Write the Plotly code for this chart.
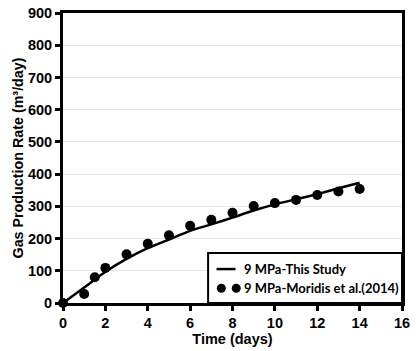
import plotly.graph_objects as go

# Simulated gas production rate (this study)
sim_days = [0, 1, 2, 3, 4, 5, 6, 7, 8, 9, 10, 11, 12, 13, 14]
sim_rate = [0, 48, 97, 137, 170, 197, 224, 244, 265, 287, 306, 322, 338, 356, 373]

# Reference data, Moridis et al. (2014)
ref_days = [0, 1, 1.5, 2, 3, 4, 5, 6, 7, 8, 9, 10, 11, 12, 13, 14]
ref_rate = [0, 28, 80, 109, 151, 184, 210, 240, 258, 280, 301, 310, 320, 335, 346, 354]

x_ticks = [0, 2, 4, 6, 8, 10, 12, 14, 16]
y_ticks = [0, 100, 200, 300, 400, 500, 600, 700, 800, 900]

legend_labels = ["9 MPa-This Study", "9 MPa-Moridis et al.(2014)"]

fig = go.Figure()
fig.add_trace(go.Scatter(
    x=sim_days, y=sim_rate, mode="lines",
    line=dict(color="black", width=2.5, shape="spline", smoothing=0.6),
    showlegend=False,
))
fig.add_trace(go.Scatter(
    x=ref_days, y=ref_rate, mode="markers",
    marker=dict(color="black", size=10, symbol="circle"),
    cliponaxis=False, showlegend=False,
))

FAMILY = "Liberation Sans, Arial, sans-serif"
tick_font = dict(family=FAMILY, size=14.5, color="black")


def bold_labels(vals):
    return ["<b>%d</b>" % v for v in vals]


fig.update_xaxes(
    range=[0, 16], tickvals=x_ticks, ticktext=bold_labels(x_ticks),
    ticks="outside", ticklen=5, tickwidth=2.5,
    tickcolor="black", showline=True, linewidth=3, linecolor="black", mirror=True,
    showgrid=False, zeroline=False, tickfont=tick_font, automargin=False,
    title=dict(text="<b>Time (days)</b>", font=dict(family=FAMILY, size=14.5, color="black"),
               standoff=0),
)
fig.update_yaxes(
    range=[0, 900], tickvals=y_ticks, ticktext=bold_labels(y_ticks),
    ticks="outside", ticklen=5, tickwidth=2.5,
    tickcolor="black", showline=True, linewidth=3, linecolor="black", mirror=True,
    showgrid=True, gridcolor="#e6e6e6", gridwidth=1, zeroline=False, tickfont=tick_font,
    automargin=False,
    title=dict(text="<b>Gas Production Rate (m³/day)</b>",
               font=dict(family=FAMILY, size=14.3, color="black"), standoff=1),
)

# Legend box drawn in paper coordinates
shapes = [
    dict(type="rect", xref="paper", yref="paper", x0=0.428, x1=1.0, y0=0.0, y1=0.172,
         line=dict(color="black", width=2), fillcolor="white", layer="above"),
    dict(type="line", xref="paper", yref="paper", x0=0.453, x1=0.509, y0=0.117, y1=0.117,
         line=dict(color="black", width=2.5)),
]
for cx in (0.467, 0.511):
    shapes.append(dict(type="circle", xref="paper", yref="paper",
                       x0=cx - 0.0133, x1=cx + 0.0133, y0=0.0507 - 0.0155, y1=0.0507 + 0.0155,
                       line=dict(color="black", width=0), fillcolor="black"))

legend_font = dict(family="Lato, Open Sans, sans-serif", size=13, color="black")
annotations = [
    dict(xref="paper", yref="paper", x=0.527, y=yy, xanchor="left", yanchor="middle",
         text="<b>" + lbl + "</b>", showarrow=False, font=legend_font)
    for lbl, yy in zip(legend_labels, (0.117, 0.0507))
]

fig.update_layout(
    width=416, height=351,
    margin=dict(l=63, r=14, t=13, b=48),
    paper_bgcolor="white", plot_bgcolor="white",
    shapes=shapes, annotations=annotations,
    showlegend=False,
)

fig.write_html("out.html")
